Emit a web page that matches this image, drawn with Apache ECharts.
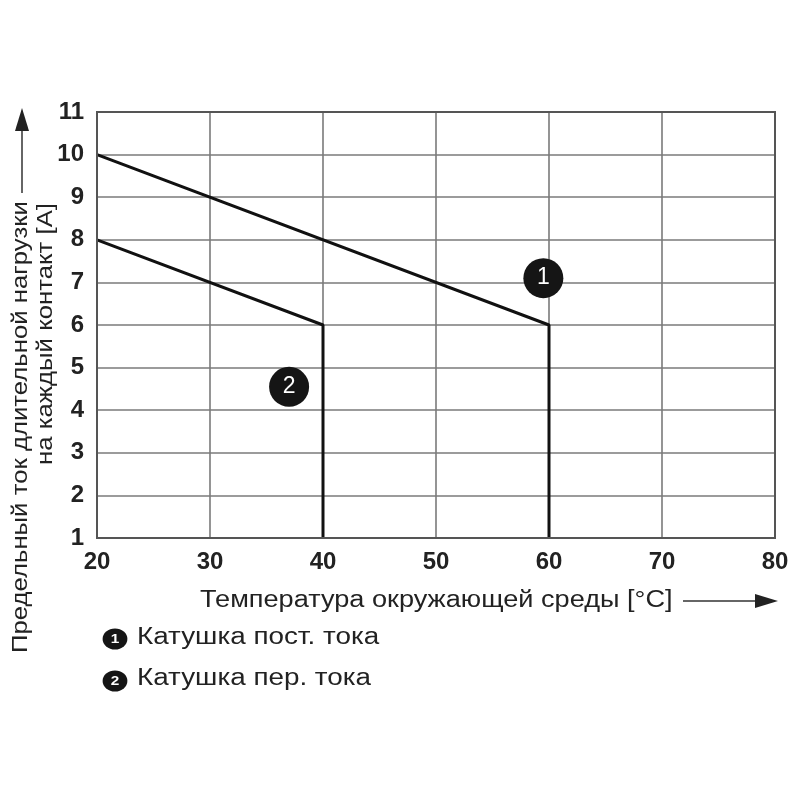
<!DOCTYPE html>
<html>
<head>
<meta charset="utf-8">
<script src="https://cdn.jsdelivr.net/npm/echarts@6/dist/echarts.min.js"></script>
<style>
  html, body { margin: 0; padding: 0; background: #fff; }
  #main { width: 800px; height: 800px; }
</style>
</head>
<body>
<div id="main"></div>
<script>
// кривые снижения тока
var dcCurve = [[20, 10], [60, 6], [60, 1]];   // 1 - катушка пост. тока
var acCurve = [[20, 8], [40, 6], [40, 1]];    // 2 - катушка пер. тока
var markerPoints = [[59.5, 7.1, '1'], [37, 4.55, '2']];
var xTicks = [20, 30, 40, 50, 60, 70, 80];
var yTicks = [1, 2, 3, 4, 5, 6, 7, 8, 9, 10, 11];
var legendItems = ['Катушка пост. тока', 'Катушка пер. тока'];

var font = '"Liberation Sans", Arial, sans-serif';
var myChart = echarts.init(document.getElementById('main'));

// текст в оригинале немного растянут по горизонтали
var stretch = 1.18;

function legendMark(y, num) {
  return {
    type: 'group', x: 115, y: y, scaleX: 1.18,
    children: [
      { type: 'circle', shape: { cx: 0, cy: 0, r: 10.5 }, style: { fill: '#151515' } },
      { type: 'text', x: 0, y: 0.5, style: { text: num, font: 'bold 13px ' + font, fill: '#fff', align: 'center', verticalAlign: 'middle' } }
    ]
  };
}

myChart.setOption({
  backgroundColor: '#fff',
  animation: false,
  grid: { left: 97, right: 25, top: 112, bottom: 262 },
  xAxis: {
    type: 'value',
    min: xTicks[0], max: xTicks[xTicks.length - 1], interval: 10,
    axisLine: { show: false },
    axisTick: { show: false },
    axisLabel: { color: '#222', fontFamily: font, fontWeight: 'bold', fontSize: 24, margin: 12 },
    splitLine: { lineStyle: { color: '#7a7a7a', width: 1.6 } }
  },
  yAxis: {
    type: 'value',
    min: yTicks[0], max: yTicks[yTicks.length - 1], interval: 1,
    axisLine: { show: false },
    axisTick: { show: false },
    axisLabel: { color: '#222', fontFamily: font, fontWeight: 'bold', fontSize: 24, margin: 13 },
    splitLine: { lineStyle: { color: '#7a7a7a', width: 1.6 } }
  },
  series: [
    {
      type: 'line', data: dcCurve, symbol: 'none',
      lineStyle: { color: '#111', width: 3 }
    },
    {
      type: 'line', data: acCurve, symbol: 'none',
      lineStyle: { color: '#111', width: 3 }
    },
    {
      type: 'scatter', data: markerPoints, symbolSize: 40, z: 5,
      itemStyle: { color: '#151515', opacity: 1 },
      label: {
        show: true, position: 'inside', color: '#fff',
        fontFamily: font, fontSize: 23,
        formatter: function (p) { return p.data[2]; }
      }
    }
  ],
  graphic: [
    // рамка
    { type: 'rect', shape: { x: 97, y: 112, width: 678, height: 426 }, style: { fill: 'none', stroke: '#555', lineWidth: 2 }, z: 10 },
    // подпись оси X со стрелкой
    { type: 'text', x: 200, y: 601, scaleX: stretch,
      style: { text: 'Температура окружающей среды [°C]', font: '23px ' + font, fill: '#222', verticalAlign: 'middle' } },
    { type: 'line', shape: { x1: 683, y1: 601, x2: 760, y2: 601 }, style: { stroke: '#333', lineWidth: 1.5 } },
    { type: 'polygon', shape: { points: [[778, 601], [755, 594], [755, 608]] }, style: { fill: '#222' } },
    // подпись оси Y
    { type: 'text', x: 21, y: 201, rotation: Math.PI / 2, scaleX: 1.17,
      style: { text: 'Предельный ток длительной нагрузки', font: '22px ' + font, fill: '#222', align: 'right', verticalAlign: 'middle' } },
    { type: 'text', x: 46, y: 203, rotation: Math.PI / 2, scaleX: 1.17,
      style: { text: 'на каждый контакт [A]', font: '22px ' + font, fill: '#222', align: 'right', verticalAlign: 'middle' } },
    { type: 'line', shape: { x1: 22, y1: 193, x2: 22, y2: 128 }, style: { stroke: '#333', lineWidth: 1.5 } },
    { type: 'polygon', shape: { points: [[22, 108], [15, 131], [29, 131]] }, style: { fill: '#222' } },
    // легенда
    legendMark(639, '1'),
    { type: 'text', x: 137, y: 638, scaleX: 1.21,
      style: { text: legendItems[0], font: '23px ' + font, fill: '#222', verticalAlign: 'middle' } },
    legendMark(681, '2'),
    { type: 'text', x: 137, y: 679, scaleX: 1.21,
      style: { text: legendItems[1], font: '23px ' + font, fill: '#222', verticalAlign: 'middle' } }
  ]
});
</script>
</body>
</html>
